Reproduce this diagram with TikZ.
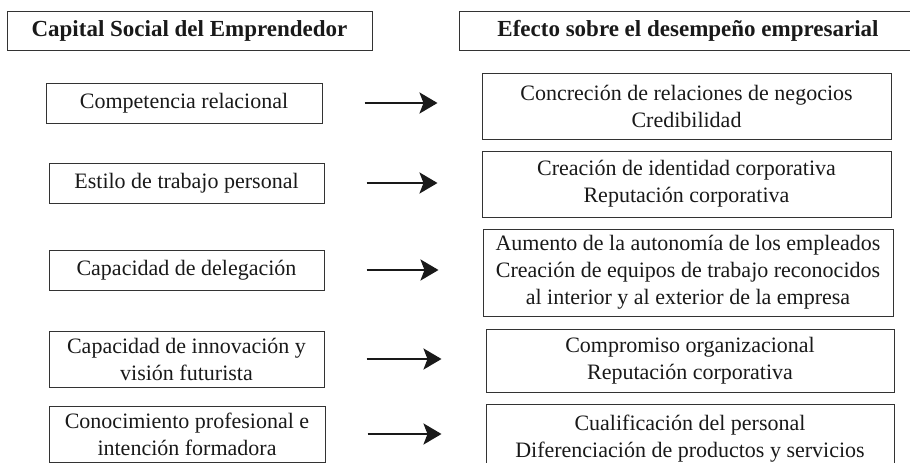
\documentclass[tikz,border=0pt]{standalone}
\usepackage{fontspec}
\setmainfont{Liberation Serif}
\usetikzlibrary{arrows.meta}
\begin{document}
\begin{tikzpicture}[x=1pt,y=-1pt,
    box/.style={draw=black!80,line width=1pt,inner sep=0pt,align=center,
        text=black!90,font=\fontsize{22}{27}\selectfont},
    headbox/.style={box,font=\fontsize{23}{27}\selectfont\bfseries},
    arr/.style={line width=2.6pt,black!90,shorten <=42pt,shorten >=44pt,
        -{Stealth[length=18pt,width=21pt,inset=4pt]}}]
    \useasboundingbox (0,0) rectangle (910,463);
    \clip (0,0) rectangle (910,463);
    \node[headbox,minimum width=365pt,minimum height=39pt] (capital) at (189.5,30.5) {Capital Social del Emprendedor};
    \node[headbox,minimum width=458pt,minimum height=39pt] (efecto) at (688,30.5) {Efecto sobre el desempeño empresarial};
    \node[box,minimum width=276pt,minimum height=40pt] (comp) at (184,103) {Competencia relacional};
    \node[box,minimum width=275pt,minimum height=40pt] (estilo) at (186.5,183) {Estilo de trabajo personal};
    \node[box,minimum width=275pt,minimum height=40pt] (deleg) at (186.5,270) {Capacidad de delegación};
    \node[box,minimum width=275pt,minimum height=56pt] (innov) at (186.5,359) {Capacidad de innovación y\\visión futurista};
    \node[box,minimum width=276pt,minimum height=56pt] (conoc) at (187,434) {Conocimiento profesional e\\intención formadora};
    \node[box,minimum width=409pt,minimum height=66pt] (negoc) at (686.5,106) {Concreción de relaciones de negocios\\Credibilidad};
    \node[box,minimum width=409pt,minimum height=66pt] (ident) at (686.5,184) {Creación de identidad corporativa\\Reputación corporativa};
    \node[box,minimum width=410pt,minimum height=87pt] (auton) at (688,272.5) {Aumento de la autonomía de los empleados\\Creación de equipos de trabajo reconocidos\\al interior y al exterior de la empresa};
    \node[box,minimum width=408pt,minimum height=63pt] (compr) at (690,360.5) {Compromiso organizacional\\Reputación corporativa};
    \node[box,minimum width=408pt,minimum height=70pt] (cualif) at (690,439) {Cualificación del personal\\Diferenciación de productos y servicios};
    \draw[arr] (comp.east) -- (comp.east -| negoc.west);
    \draw[arr] (estilo.east) -- (estilo.east -| ident.west);
    \draw[arr] (deleg.east) -- (deleg.east -| auton.west);
    \draw[arr] (innov.east) -- (innov.east -| compr.west);
    \draw[arr] (conoc.east) -- (conoc.east -| cualif.west);
\end{tikzpicture}
\end{document}
